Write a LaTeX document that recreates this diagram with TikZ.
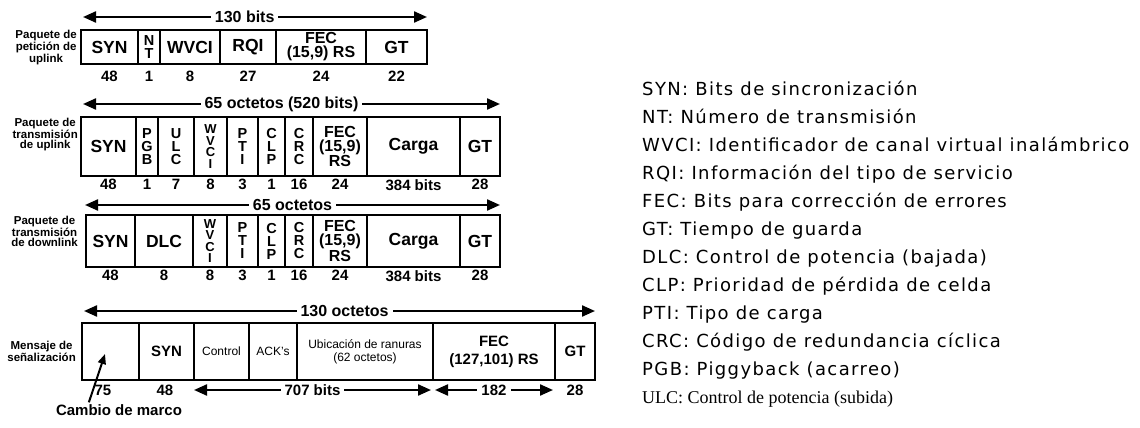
\documentclass[tikz,border=0pt]{standalone}
\usepackage{fontspec}
\setmainfont{Liberation Sans}
\newfontfamily\fuenteleyenda[LetterSpace=7.7]{DejaVu Sans}
\newfontfamily\fuenteserif{Liberation Serif}
\usetikzlibrary{arrows.meta,positioning}

\tikzset{
  >={Triangle[length=13pt,width=11pt]},
  campo/.style={draw,line width=2.4pt,inner sep=0pt,outer sep=0pt,align=center,
    font=\fontsize{17.5}{15}\selectfont\bfseries},
  llano/.style={},
  pila/.style={font=\fontsize{14.5}{13}\selectfont\bfseries},
  apilado/.style={font=\fontsize{13}{11.5}\selectfont\bfseries},
  fec/.style={font=\fontsize{16}{14}\selectfont\bfseries},
  medio/.style={font=\fontsize{15}{18}\selectfont\bfseries},
  chico/.style={font=\fontsize{12}{13}\selectfont},
  cifra/.style={inner sep=0pt,font=\fontsize{15}{15}\selectfont\bfseries},
  cota/.style={<->,line width=2.2pt},
  etiq/.style={fill=white,inner xsep=4pt,inner ysep=1pt,font=\fontsize{16}{16}\selectfont\bfseries},
  rotulo/.style={align=center,inner sep=0pt,font=\fontsize{11.5}{10.5}\selectfont\bfseries},
  leyenda/.style={anchor=base west,inner sep=0pt,font=\fuenteleyenda\fontsize{18}{20}\selectfont},
  puntero/.style={-{Triangle[length=10pt,width=8pt]},line width=2pt},
}

\begin{document}
\begin{tikzpicture}[x=1pt,y=-1pt]
  \useasboundingbox (0,0) rectangle (1140,428);

  % paquete de peticion de uplink
  \begin{scope}[label distance=7pt]
    \foreach \xa/\xb/\txt/\num/\st [count=\i] in {81/138/SYN/48/llano, 138/160/{N\\T}/1/pila,
        160/220/WVCI/8/llano, 220/276/RQI/27/llano, 276/366/{FEC\\(15,9) RS}/24/fec, 366/427/GT/22/llano}
      \node[campo,\st,minimum width={(\xb-\xa)*1pt},minimum height=34pt,label={[cifra]below:\num}]
        (p1-\i) at ({(\xa+\xb)/2},47) {\txt};
  \end{scope}
  \node[rotulo,below left=0pt and 4pt of p1-1.north west] (r1) {Paquete de\\petición de\\uplink};
  \draw[cota] ([xshift=2pt,yshift=13pt]p1-1.north west) -- node[etiq,pos=0.47] {130 bits} ([yshift=13pt]p1-6.north east);

  % paquete de transmision de uplink
  \begin{scope}[label distance=3pt]
    \foreach \xa/\xb/\txt/\num/\st [count=\i] in {81/136/SYN/48/llano, 136/158/{P\\G\\B}/1/pila,
        158/194/{U\\L\\C}/7/pila, 194/227/{W\\V\\C\\I}/8/apilado, 227/258/{P\\T\\I}/3/pila,
        258/285/{C\\L\\P}/1/pila, 285/313/{C\\R\\C}/16/pila, 313/367/{FEC\\(15,9)\\RS}/24/fec,
        367/460/Carga/{384 bits}/llano, 460/500/GT/28/llano}
      \node[campo,\st,minimum width={(\xb-\xa)*1pt},minimum height=59pt,label={[cifra]below:\num}]
        (p2-\i) at ({(\xa+\xb)/2},146.5) {\txt};
  \end{scope}
  \node[rotulo,below left=1pt and 3pt of p2-1.north west] (r2) {Paquete de\\transmisión\\de uplink};
  \draw[cota] ([xshift=2pt,yshift=13pt]p2-1.north west) -- node[etiq,pos=0.476] {65 octetos (520 bits)} ([yshift=13pt]p2-10.north east);

  % paquete de transmision de downlink
  \begin{scope}[label distance=3pt]
    \foreach \xa/\xb/\txt/\num/\st [count=\i] in {86/135/SYN/48/llano, 135/193/DLC/8/llano,
        193/227/{W\\V\\C\\I}/8/apilado, 227/258/{P\\T\\I}/3/pila, 258/285/{C\\L\\P}/1/pila,
        285/313/{C\\R\\C}/16/pila, 313/367/{FEC\\(15,9)\\RS}/24/fec,
        367/460/Carga/{384 bits}/llano, 460/500/GT/28/llano}
      \node[campo,\st,minimum width={(\xb-\xa)*1pt},minimum height=52pt,label={[cifra]below:\num}]
        (p3-\i) at ({(\xa+\xb)/2},241) {\txt};
  \end{scope}
  \node[rotulo,below left=1pt and 8pt of p3-1.north west] (r3) {Paquete de\\transmisión\\de downlink};
  \draw[cota] ([xshift=-1pt,yshift=10pt]p3-1.north west) -- node[etiq] {65 octetos} ([yshift=10pt]p3-9.north east);

  % mensaje de senalizacion
  \foreach \xa/\xb/\txt/\st [count=\i] in {82/139/{}/llano, 139/194/SYN/medio, 194/249/Control/chico,
      249/297/{ACK's}/chico, 297/433/{Ubicación de ranuras\\(62 octetos)}/chico,
      433/555/{FEC\\(127,101) RS}/medio, 555/595/GT/medio}
    \node[campo,\st,minimum width={(\xb-\xa)*1pt},minimum height=57pt] (p4-\i) at ({(\xa+\xb)/2},351.5) {\txt};
  \node[rotulo,left=6pt of p4-1.west] (r4) {Mensaje de\\señalización};
  \draw[cota] ([xshift=2pt,yshift=12pt]p4-1.north west) -- node[etiq,pos=0.51] {130 octetos} ([yshift=12pt]p4-7.north east);
  \node[cifra] (n4-1) at (103,390) {75};
  \node[cifra] (n4-2) at (165,390) {48};
  \node[cifra] (n4-7) at (575,390) {28};
  \draw[cota] ([yshift=-10pt]p4-3.south west) -- node[etiq,font=\fontsize{15}{15}\selectfont\bfseries] {707 bits} ([xshift=-2pt,yshift=-10pt]p4-6.south west);
  \draw[cota] ([xshift=2pt,yshift=-10pt]p4-6.south west) -- node[etiq,font=\fontsize{15}{15}\selectfont\bfseries] {182} ([xshift=-2pt,yshift=-10pt]p4-7.south west);
  \node[inner sep=0pt,font=\fontsize{15}{15}\selectfont\bfseries] (cambio) at (119,410) {Cambio de marco};
  \draw[puntero] ([xshift=33pt,yshift=2pt]cambio.north west) -- ([shift={(23pt,26pt)}]p4-1.south west);

  % leyenda
  \foreach \sig/\txt [count=\i] in {SYN/Bits de sincronización, NT/Número de transmisión,
      WVCI/Identificador de canal virtual inalámbrico, RQI/Información del tipo de servicio,
      FEC/Bits para corrección de errores, GT/Tiempo de guarda, DLC/Control de potencia (bajada),
      CLP/Prioridad de pérdida de celda, PTI/Tipo de carga, CRC/Código de redundancia cíclica,
      PGB/Piggyback (acarreo)}
    \node[leyenda] (ley-\i) at (642,{95+28*(\i-1)}) {\sig: \txt};
  \node[leyenda,font=\fuenteserif\fontsize{18}{20}\selectfont] (ley-12) at (642,403) {ULC: Control de potencia (subida)};
\end{tikzpicture}
\end{document}
